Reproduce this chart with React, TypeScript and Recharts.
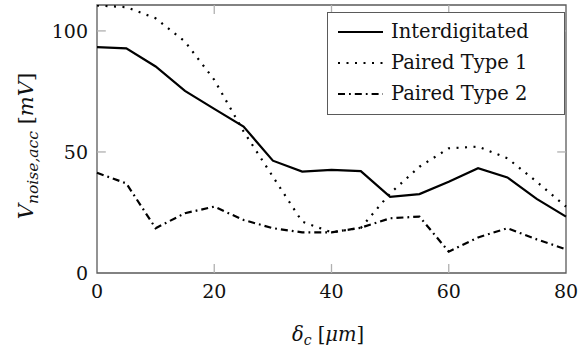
import { LineChart, Line, XAxis, YAxis, ReferenceLine, ReferenceArea } from "recharts";

// spacing delta_c in um
const spacing = [0, 5, 10, 15, 20, 25, 30, 35, 40, 45, 50, 55, 60, 65, 70, 75, 80];
const interdigitated = [93.3, 92.8, 85.3, 75.2, 67.8, 60.5, 46.4, 41.9, 42.6, 42.1, 31.5, 32.6, 37.7, 43.3, 39.5, 30.6, 23.3];
const pairedType1 = [110.5, 109.8, 105.2, 95.6, 79.8, 58.5, 39.8, 21.2, 16.8, 18.6, 32.9, 43.9, 51.5, 52.2, 47.4, 37.7, 27.4];
const pairedType2 = [41.4, 37.0, 18.5, 24.7, 27.4, 21.9, 18.5, 16.8, 16.8, 18.7, 22.6, 23.3, 8.8, 14.7, 18.5, 13.9, 9.8];

const xTicks = [0, 20, 40, 60, 80];
const yTicks = [0, 50, 100];
const yMax = 110.7;

const data = spacing.map((x, i) => ({
  x,
  inter: interdigitated[i],
  p1: pairedType1[i],
  p2: pairedType2[i],
}));

const FONT = "'DejaVu Serif', serif";
const TICK_GRAY = "#b0b0b0";
const FRAME = "#5a5a5a";

const series = [
  { key: "inter", name: "Interdigitated", dash: undefined as string | undefined },
  { key: "p1", name: "Paired Type 1", dash: "2 6.5" },
  { key: "p2", name: "Paired Type 2", dash: "7 4 1.8 4" },
];

function YLabel() {
  const cx = 33;
  const cy = 146;
  return (
    <text
      x={cx}
      y={cy}
      transform={`rotate(-90 ${cx} ${cy})`}
      textAnchor="middle"
      fontFamily={FONT}
      fontSize={21}
      fill="#111"
    >
      <tspan fontStyle="italic">V</tspan>
      <tspan fontStyle="italic" fontSize={15.5} dy={5}>noise,acc</tspan>
      <tspan dy={-5}>{"\u00a0["}</tspan>
      <tspan fontStyle="italic">mV</tspan>
      <tspan>]</tspan>
    </text>
  );
}

function XLabel() {
  return (
    <text x={328} y={341} textAnchor="middle" fontFamily={FONT} fontSize={19.5} fill="#111">
      <tspan fontStyle="italic">δ</tspan>
      <tspan fontStyle="italic" fontSize={14} dy={4}>c</tspan>
      <tspan dy={-4}>{"\u00a0["}</tspan>
      <tspan fontStyle="italic">μm</tspan>
      <tspan>]</tspan>
    </text>
  );
}

function LegendBox() {
  return (
    <div
      style={{
        position: "absolute",
        left: 327,
        top: 12,
        width: 238,
        height: 103,
        boxSizing: "border-box",
        border: `1.3px solid ${FRAME}`,
        background: "#fff",
        paddingTop: 3,
        fontFamily: FONT,
        fontSize: 19.5,
        color: "#111",
      }}
    >
      {series.map(s => (
        <div key={s.key} style={{ display: "flex", alignItems: "center", height: 31 }}>
          <svg width={45} height={6} style={{ marginLeft: 10, marginRight: 8 }}>
            <line x1={0} y1={3} x2={45} y2={3} stroke="#000" strokeWidth={2.2} strokeDasharray={s.dash} />
          </svg>
          <span style={{ whiteSpace: "nowrap" }}>{s.name}</span>
        </div>
      ))}
    </div>
  );
}

export default function App() {
  const tickLen = { x: 1.5, y: 3.7 };
  return (
    <div style={{ position: "absolute", left: 0, top: 0, width: 578, height: 350, background: "#fff" }}>
      <LineChart width={578} height={350} data={data} margin={{ top: 5, right: 12, left: 0, bottom: 0 }}>
        <XAxis
          dataKey="x"
          type="number"
          domain={[0, 80]}
          ticks={xTicks}
          height={77}
          axisLine={false}
          tickLine={false}
          tickSize={0}
          tickMargin={12}
          tick={{ fontFamily: FONT, fontSize: 19, fill: "#111" }}
        />
        <YAxis
          type="number"
          domain={[0, yMax]}
          ticks={yTicks}
          width={97}
          axisLine={false}
          tickLine={false}
          tickSize={0}
          tickMargin={9}
          allowDataOverflow
          tick={{ fontFamily: FONT, fontSize: 19, fill: "#111" }}
        />
        {/* inner ticks, pgfplots style, on all four sides */}
        {xTicks.slice(1, -1).map(t => (
          <ReferenceLine key={`xb${t}`} segment={[{ x: t, y: 0 }, { x: t, y: tickLen.y }]} stroke={TICK_GRAY} strokeWidth={1.3} />
        ))}
        {xTicks.slice(1, -1).map(t => (
          <ReferenceLine key={`xt${t}`} segment={[{ x: t, y: yMax }, { x: t, y: yMax - tickLen.y }]} stroke={TICK_GRAY} strokeWidth={1.3} />
        ))}
        {yTicks.slice(1).map(t => (
          <ReferenceLine key={`yl${t}`} segment={[{ x: 0, y: t }, { x: tickLen.x, y: t }]} stroke={TICK_GRAY} strokeWidth={1.3} />
        ))}
        {yTicks.slice(1).map(t => (
          <ReferenceLine key={`yr${t}`} segment={[{ x: 80, y: t }, { x: 80 - tickLen.x, y: t }]} stroke={TICK_GRAY} strokeWidth={1.3} />
        ))}
        <ReferenceArea x1={0} x2={80} y1={0} y2={yMax} fill="none" stroke={FRAME} strokeWidth={1.3} />
        {series.map(s => (
          <Line
            key={s.key}
            dataKey={s.key}
            name={s.name}
            type="linear"
            stroke="#000"
            strokeWidth={2.2}
            strokeDasharray={s.dash}
            dot={false}
            activeDot={false}
            isAnimationActive={false}
          />
        ))}
      </LineChart>
      <svg width={578} height={350} style={{ position: "absolute", left: 0, top: 0, pointerEvents: "none" }}>
        <YLabel />
        <XLabel />
      </svg>
      <LegendBox />
    </div>
  );
}
